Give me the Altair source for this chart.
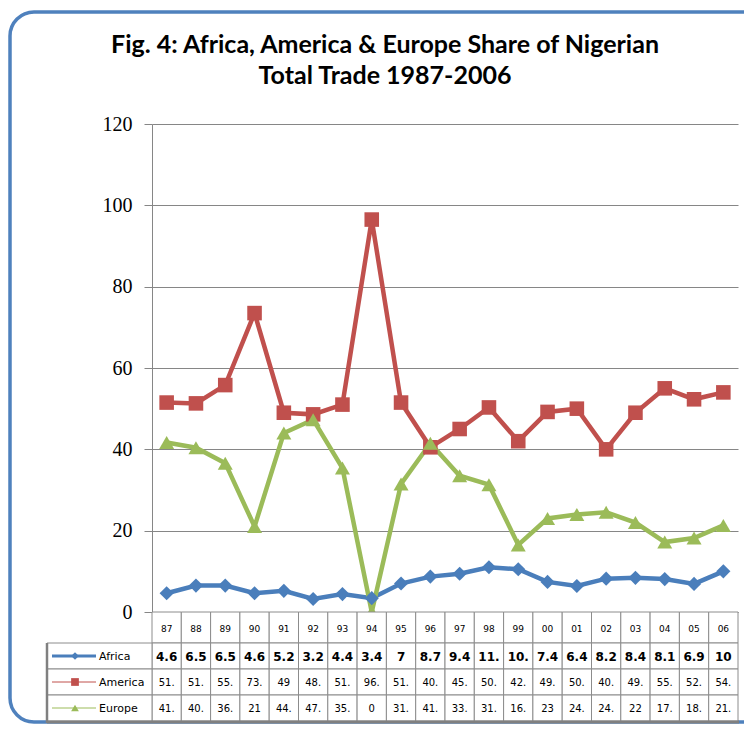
import altair as alt
import pandas as pd

years = ["87", "88", "89", "90", "91", "92", "93", "94", "95", "96",
         "97", "98", "99", "00", "01", "02", "03", "04", "05", "06"]
series = ["Africa", "America", "Europe"]
africa = [4.6, 6.5, 6.5, 4.6, 5.2, 3.2, 4.4, 3.4, 7.0, 8.7,
          9.4, 11.0, 10.5, 7.4, 6.4, 8.2, 8.4, 8.1, 6.9, 10.0]
america = [51.5, 51.3, 55.8, 73.5, 49.0, 48.6, 51.0, 96.5, 51.5, 40.5,
           45.0, 50.3, 42.0, 49.2, 50.0, 40.0, 49.0, 55.0, 52.3, 54.0]
europe = [41.7, 40.4, 36.6, 21.0, 44.0, 47.3, 35.4, 0.0, 31.5, 41.5,
          33.5, 31.3, 16.5, 23.0, 24.0, 24.5, 22.0, 17.2, 18.2, 21.3]
# labels as printed in the data table under the chart
africa_lbl = ["4.6", "6.5", "6.5", "4.6", "5.2", "3.2", "4.4", "3.4", "7", "8.7",
              "9.4", "11.", "10.", "7.4", "6.4", "8.2", "8.4", "8.1", "6.9", "10"]
america_lbl = ["51.", "51.", "55.", "73.", "49", "48.", "51.", "96.", "51.", "40.",
               "45.", "50.", "42.", "49.", "50.", "40.", "49.", "55.", "52.", "54."]
europe_lbl = ["41.", "40.", "36.", "21", "44.", "47.", "35.", "0", "31.", "41.",
              "33.", "31.", "16.", "23", "24.", "24.", "22", "17.", "18.", "21."]
title_lines = ["Fig. 4: Africa, America & Europe Share of Nigerian", "Total Trade 1987-2006"]
y_ticks = [0, 20, 40, 60, 80, 100, 120]
colors = ["#4a7ebb", "#c0504d", "#9bbb59"]
shapes = ["diamond", "square", "triangle-up"]

rows = []
for s, vals in zip(series, [africa, america, europe]):
    for yr, v in zip(years, vals):
        rows.append({"year": yr, "series": s, "value": v})
df = pd.DataFrame(rows)

tbl = []
for s, labs in zip(["hdr"] + series, [years, africa_lbl, america_lbl, europe_lbl]):
    for yr, lb in zip(years, labs):
        tbl.append({"year": yr, "row": s, "label": lb})
tdf = pd.DataFrame(tbl)

leg = pd.DataFrame({"series": series})
one = pd.DataFrame({"a": [0]})

W, H = 586, 488
# table layout (pixels below plot top)
row_top = {"hdr": H, "Africa": 519, "America": 545, "Europe": 571}
row_bot = {"hdr": 519, "Africa": 545, "America": 571, "Europe": 597}
row_fs = {"hdr": 9, "Africa": 12, "America": 10, "Europe": 10}
row_fw = {"hdr": "normal", "Africa": "bold", "America": "normal", "Europe": "normal"}

x_enc = alt.X("year:O", scale=alt.Scale(domain=years, paddingInner=0, paddingOuter=0),
              axis=alt.Axis(labels=False, ticks=False, title=None, domainColor="#868686"))
color_scale = alt.Scale(domain=series, range=colors)
shape_scale = alt.Scale(domain=series, range=shapes)
size_scale = alt.Scale(domain=series, range=[200, 225, 320])

border = alt.Chart(one).mark_rect(fillOpacity=0, stroke="#4f81bd", strokeWidth=3.5,
                                  cornerRadius=24).encode(
    x=alt.value(-142), x2=alt.value(680), y=alt.value(-112), y2=alt.value(598))

title1 = alt.Chart(pd.DataFrame({"t": [title_lines[0]]})).mark_text(
    font="Lato", fontSize=25, fontWeight="bold", color="black").encode(
    x=alt.value(233), y=alt.value(-79), text="t:N")
title2 = alt.Chart(pd.DataFrame({"t": [title_lines[1]]})).mark_text(
    font="Lato", fontSize=25, fontWeight="bold", color="black").encode(
    x=alt.value(233), y=alt.value(-48), text="t:N")

lines = alt.Chart(df).mark_line(strokeWidth=4.5).encode(
    x=x_enc,
    y=alt.Y("value:Q", scale=alt.Scale(domain=[0, 120]),
            axis=alt.Axis(values=y_ticks, title=None, grid=True, gridColor="#868686",
                          domainColor="#868686", tickColor="#868686", tickSize=8,
                          labelFont="Liberation Serif", labelFontSize=20, labelColor="black",
                          labelPadding=12)),
    color=alt.Color("series:N", scale=color_scale, legend=None),
    detail="series:N")
points = alt.Chart(df).mark_point(filled=True, opacity=1).encode(
    x=x_enc, y="value:Q",
    color=alt.Color("series:N", scale=color_scale, legend=None),
    shape=alt.Shape("series:N", scale=shape_scale, legend=None),
    size=alt.Size("series:N", scale=size_scale, legend=None))

layers = [border, title1, title2, lines, points]

for r in ["hdr"] + series:
    sub = tdf[tdf["row"] == r]
    layers.append(alt.Chart(sub).mark_rect(fill="white", stroke="#8c8c8c", strokeWidth=1).encode(
        x=x_enc, y=alt.value(row_top[r]), y2=alt.value(row_bot[r])))
    layers.append(alt.Chart(sub).mark_text(font="DejaVu Sans", fontSize=row_fs[r],
                                           fontWeight=row_fw[r], color="black").encode(
        x=x_enc, y=alt.value((row_top[r] + row_bot[r]) / 2 + 1), text="label:N"))

for i, s in enumerate(series):
    d = leg[leg["series"] == s]
    cy = (row_top[s] + row_bot[s]) / 2
    layers.append(alt.Chart(d).mark_rect(fill="white", stroke="#8c8c8c", strokeWidth=1).encode(
        x=alt.value(-105), x2=alt.value(0), y=alt.value(row_top[s]), y2=alt.value(row_bot[s])))
    layers.append(alt.Chart(d).mark_rule(strokeWidth=3 if s == "Africa" else 1).encode(
        x=alt.value(-100), x2=alt.value(-56), y=alt.value(cy),
        color=alt.Color("series:N", scale=color_scale, legend=None)))
    layers.append(alt.Chart(d).mark_point(filled=True, opacity=1, size=60).encode(
        x=alt.value(-77), y=alt.value(cy),
        color=alt.Color("series:N", scale=color_scale, legend=None),
        shape=alt.Shape("series:N", scale=shape_scale, legend=None)))
    layers.append(alt.Chart(d).mark_text(align="left", font="DejaVu Sans", fontSize=11,
                                         color="black").encode(
        x=alt.value(-53), y=alt.value(cy + 1), text="series:N"))

layers.append(alt.Chart(one).mark_rule(color="#808080", strokeWidth=2.5).encode(
    x=alt.value(-105), y=alt.value(row_top["Africa"]), y2=alt.value(row_bot["Europe"] + 2)))
layers.append(alt.Chart(one).mark_rule(color="#808080", strokeWidth=3).encode(
    x=alt.value(-105), x2=alt.value(W + 1), y=alt.value(row_bot["Europe"] + 1)))

chart = alt.layer(*layers).properties(
    width=W, height=H,
    autosize=alt.AutoSizeParams(type="none"),
    padding={"left": 144, "top": 116, "right": 6, "bottom": 112},
).configure_view(stroke=None)

chart.save("out.html", embed_options={"renderer": "svg", "actions": False})
